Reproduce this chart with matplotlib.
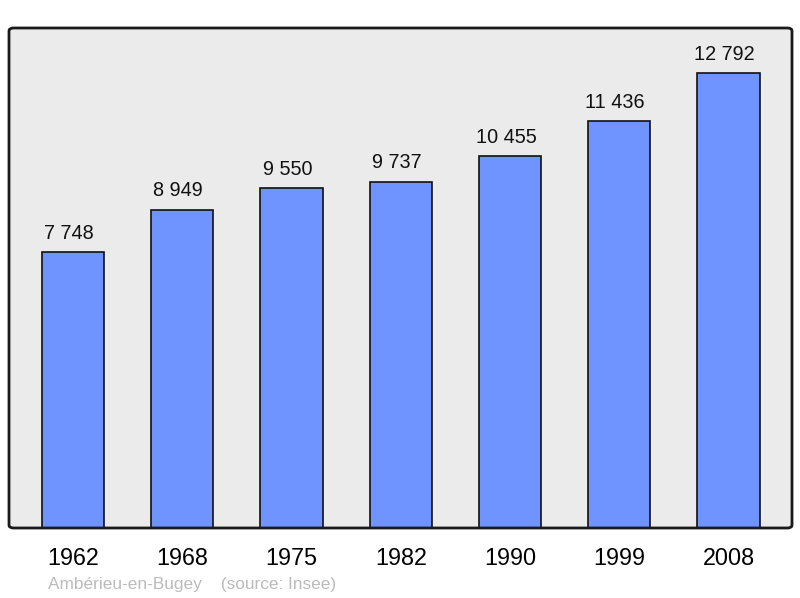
import matplotlib.pyplot as plt
from matplotlib.patches import FancyBboxPatch

plt.rcParams['font.family'] = ['Liberation Sans', 'DejaVu Sans']

years = ['1962', '1968', '1975', '1982', '1990', '1999', '2008']
population = [7748, 8949, 9550, 9737, 10455, 11436, 12792]
labels = ['7 748', '8 949', '9 550', '9 737', '10 455', '11 436', '12 792']

fig = plt.figure(figsize=(8, 5.98), dpi=100)
ax = fig.add_axes([9 / 800, 70 / 598, 783 / 800, 500 / 598])

# rounded background and frame
bg = FancyBboxPatch((0, 0), 1, 1, boxstyle='round,pad=0,rounding_size=0.006',
                    transform=ax.transAxes, facecolor='#ebebeb', edgecolor='none',
                    zorder=0, clip_on=False)
frame = FancyBboxPatch((0, 0), 1, 1, boxstyle='round,pad=0,rounding_size=0.006',
                       transform=ax.transAxes, facecolor='none', edgecolor='#1a1a1a',
                       linewidth=2, zorder=5, clip_on=False)
ax.add_patch(bg)
ax.add_patch(frame)
ax.patch.set_visible(False)
for s in ax.spines.values():
    s.set_visible(False)

x = range(len(years))
ax.bar(x, population, width=0.57, color='#7094ff', edgecolor='#111111',
       linewidth=1.2, zorder=2)
for i, (v, t) in enumerate(zip(population, labels)):
    ax.annotate(t, (i, v), xytext=(-3, 9.5), textcoords='offset points',
                ha='center', va='baseline', fontsize=14.3, color='#111111')

ax.set_xlim(-0.585, 6.58)
ax.set_ylim(0, 14057)
ax.set_yticks([])
ax.set_xticks(list(x))
ax.set_xticklabels(years, fontsize=16.8)
ax.tick_params(axis='x', length=0, pad=14)

fig.text(48 / 800, 1 - 584 / 598, 'Ambérieu-en-Bugey    (source: Insee)',
         fontsize=12.4, color='#bbbbbb', va='center', ha='left')

fig.savefig('out.png', dpi=100)
